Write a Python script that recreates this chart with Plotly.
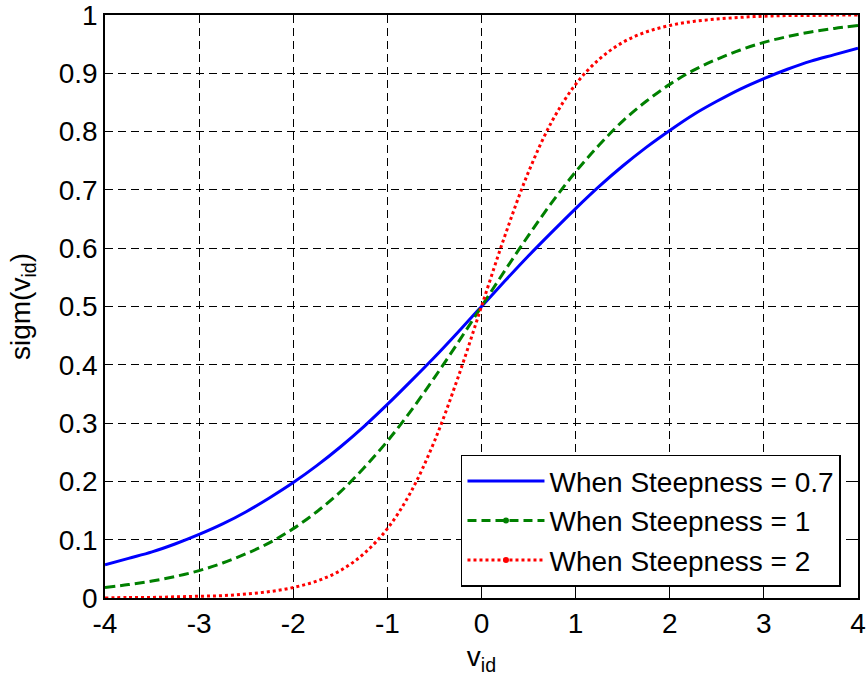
import plotly.graph_objects as go

# x positions (v_id)
x_vals = [-4.0, -3.75, -3.5, -3.25, -3.0, -2.75, -2.5, -2.25, -2.0, -1.75, -1.5, -1.25,
          -1.0, -0.75, -0.5, -0.25, 0.0, 0.25, 0.5, 0.75, 1.0, 1.25, 1.5, 1.75,
          2.0, 2.25, 2.5, 2.75, 3.0, 3.25, 3.5, 3.75, 4.0]

# sigm(v_id)
steep_07 = [0.057, 0.068, 0.079, 0.093, 0.109, 0.127, 0.148, 0.172, 0.198, 0.227, 0.259, 0.294,
            0.332, 0.372, 0.413, 0.456, 0.500, 0.544, 0.587, 0.628, 0.668, 0.706, 0.741, 0.773,
            0.802, 0.829, 0.852, 0.873, 0.891, 0.907, 0.921, 0.932, 0.943]
steep_1 = [0.018, 0.023, 0.029, 0.037, 0.047, 0.060, 0.076, 0.095, 0.119, 0.148, 0.182, 0.223,
           0.269, 0.321, 0.378, 0.438, 0.500, 0.562, 0.622, 0.679, 0.731, 0.777, 0.818, 0.852,
           0.881, 0.905, 0.924, 0.940, 0.953, 0.963, 0.971, 0.977, 0.982]
steep_2 = [0.000, 0.001, 0.001, 0.002, 0.003, 0.004, 0.007, 0.011, 0.018, 0.029, 0.047, 0.076,
           0.119, 0.182, 0.269, 0.378, 0.500, 0.622, 0.731, 0.818, 0.881, 0.924, 0.953, 0.971,
           0.982, 0.989, 0.993, 0.996, 0.998, 0.999, 0.999, 1.000, 1.000]

names = ["When Steepness = 0.7", "When Steepness = 1", "When Steepness = 2"]
x_ticks = [-4, -3, -2, -1, 0, 1, 2, 3, 4]
y_ticks = [0, 0.1, 0.2, 0.3, 0.4, 0.5, 0.6, 0.7, 0.8, 0.9, 1]
y_tick_text = ["0", "0.1", "0.2", "0.3", "0.4", "0.5", "0.6", "0.7", "0.8", "0.9", "1"]

FONT = "Liberation Sans, Arial, Helvetica, sans-serif"
FS = 28

fig = go.Figure()
styles = [
    dict(color="#0000ff", dash="solid"),
    dict(color="#008000", dash="10px,5px"),
    dict(color="#ff0000", dash="3px,3px"),
]
for ys, nm, st in zip([steep_07, steep_1, steep_2], names, styles):
    fig.add_trace(go.Scatter(x=x_vals, y=ys, mode="lines", name=nm, showlegend=False,
                             line=dict(color=st["color"], width=3, dash=st["dash"], shape="spline")))

# legend entries
fig.add_trace(go.Scatter(x=[None], y=[None], mode="lines", name=names[0],
                         line=dict(color="#0000ff", width=3)))
fig.add_trace(go.Scatter(x=[None], y=[None], mode="lines+markers", name=names[1],
                         line=dict(color="#008000", width=3, dash="9px,5px"),
                         marker=dict(color="#008000", size=6)))
fig.add_trace(go.Scatter(x=[None], y=[None], mode="lines+markers", name=names[2],
                         line=dict(color="#ff0000", width=3, dash="3px,3px"),
                         marker=dict(color="#ff0000", size=6)))

axis_common = dict(
    showline=True, linecolor="black", linewidth=1.5, mirror="ticks",
    ticks="inside", ticklen=7, tickwidth=1, tickcolor="black",
    showgrid=True, gridcolor="black", gridwidth=1, griddash="8px,5px",
    zeroline=False, ticklabeloverflow="allow", automargin=False,
    tickfont=dict(family=FONT, size=FS, color="black"),
)

fig.update_layout(
    width=867, height=682,
    margin=dict(l=105, r=9, t=15, b=84, autoexpand=False),
    plot_bgcolor="white", paper_bgcolor="white",
    font=dict(family=FONT, size=FS, color="black"),
    xaxis=dict(range=[-4, 4], tickvals=x_ticks, ticktext=[str(v) for v in x_ticks],
               title=dict(text="v<sub>id</sub>", font=dict(family=FONT, size=FS), standoff=8),
               **axis_common),
    yaxis=dict(range=[0, 1], tickvals=y_ticks, ticktext=y_tick_text,
               title=dict(text="sigm(v<sub>id</sub>)", font=dict(family=FONT, size=FS), standoff=20),
               **axis_common),
    legend=dict(x=0.9774, y=0.019, xanchor="right", yanchor="bottom",
                bgcolor="white", bordercolor="black", borderwidth=1.5,
                font=dict(family=FONT, size=FS, color="black"),
                itemwidth=77, tracegroupgap=0),
)

fig.write_html("out.html")
